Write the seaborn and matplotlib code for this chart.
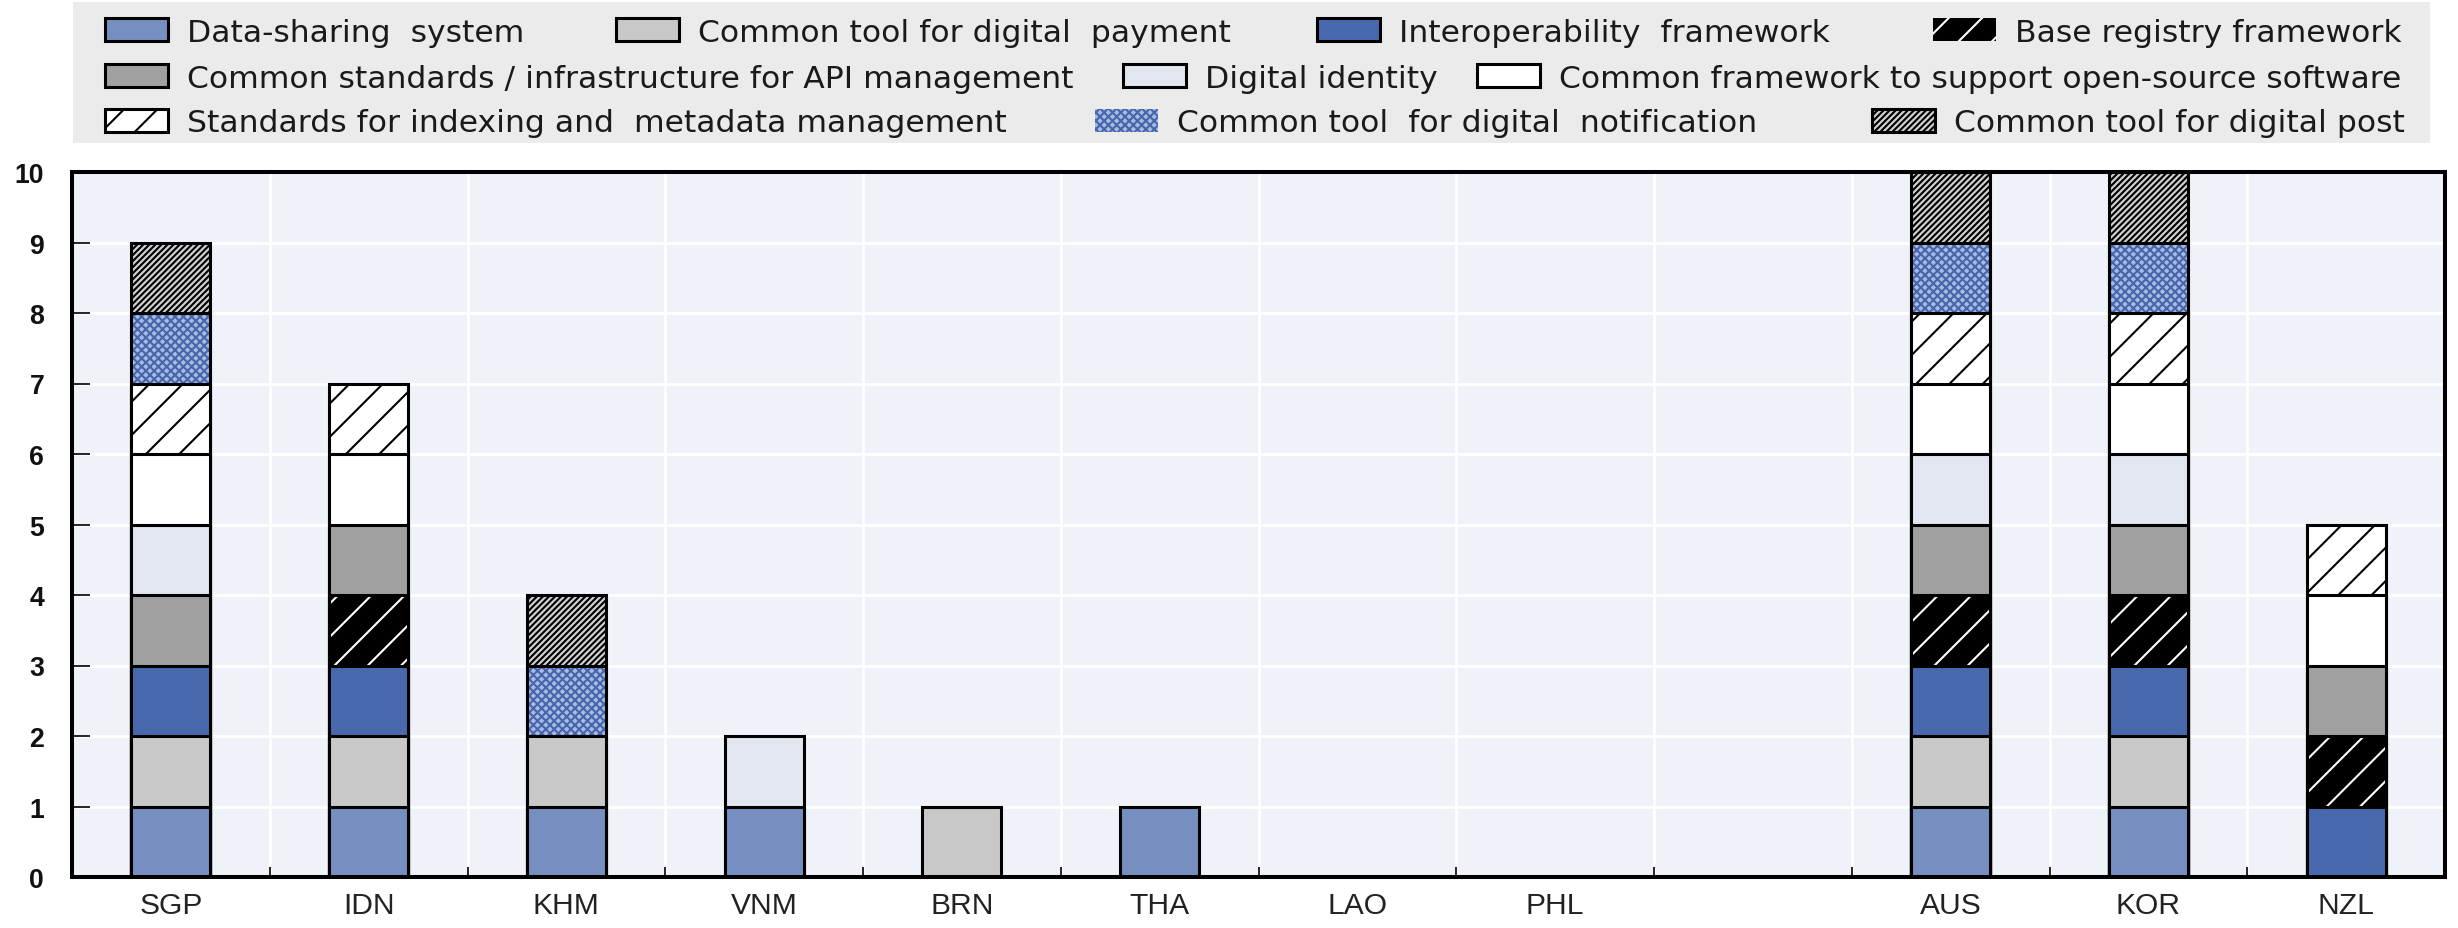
import numpy as np
import pandas as pd
import matplotlib
matplotlib.use("Agg")
import matplotlib.pyplot as plt
from matplotlib.patches import Patch, Rectangle
import seaborn as sns

# ---------------- data ----------------
countries = ["SGP", "IDN", "KHM", "VNM", "BRN", "THA", "LAO", "PHL", "AUS", "KOR", "NZL"]
x_order = ["SGP", "IDN", "KHM", "VNM", "BRN", "THA", "LAO", "PHL", " ", "AUS", "KOR", "NZL"]

data_sharing     = [1, 1, 1, 1, 0, 1, 0, 0, 1, 1, 0]
digital_payment  = [1, 1, 1, 0, 1, 0, 0, 0, 1, 1, 0]
interoperability = [1, 1, 0, 0, 0, 0, 0, 0, 1, 1, 1]
base_registry    = [0, 1, 0, 0, 0, 0, 0, 0, 1, 1, 1]
api_management   = [1, 1, 0, 0, 0, 0, 0, 0, 1, 1, 1]
digital_identity = [1, 0, 0, 1, 0, 0, 0, 0, 1, 1, 0]
open_source      = [1, 1, 0, 0, 0, 0, 0, 0, 1, 1, 1]
indexing_meta    = [1, 1, 0, 0, 0, 0, 0, 0, 1, 1, 1]
digital_notif    = [1, 0, 1, 0, 0, 0, 0, 0, 1, 1, 0]
digital_post     = [1, 0, 1, 0, 0, 0, 0, 0, 1, 1, 0]

series_labels = [
    "Data-sharing  system",
    "Common tool for digital  payment",
    "Interoperability  framework",
    "Base registry framework",
    "Common standards / infrastructure for API management",
    "Digital identity",
    "Common framework to support open-source software",
    "Standards for indexing and  metadata management",
    "Common tool  for digital  notification",
    "Common tool for digital post",
]
y_ticks = list(range(0, 11))

# ---------------- styles ----------------
# (facecolor, hatch, hatchcolor)
styles = [
    ("#778FC0", None, None),
    ("#C8C8C8", None, None),
    ("#4869AE", None, None),
    ("#000000", "//", "white"),
    ("#A0A0A0", None, None),
    ("#E1E6F0", None, None),
    ("#FFFFFF", None, None),
    ("#FFFFFF", "//", "black"),
    ("#A9BAE0", "xxxxxxxx", "#4566AD"),
    ("#D0D0D0", "/" * 11, "black"),
]

sns.set_style("white")
plt.rcParams["hatch.linewidth"] = 0.75
plt.rcParams["font.family"] = ["Liberation Sans", "DejaVu Sans"]

W, H, DPI = 2458, 929, 200
fig = plt.figure(figsize=(W / DPI, H / DPI), dpi=DPI)
fig.patch.set_facecolor("white")

ax = fig.add_axes([72 / W, 1 - 878 / H, (2445 - 72) / W, (878 - 173) / H])
ax.set_facecolor("#EFF2F8")

values = np.array([data_sharing, digital_payment, interoperability, base_registry,
                   api_management, digital_identity, open_source, indexing_meta,
                   digital_notif, digital_post], dtype=float)
tops = values.cumsum(axis=0)

EDGE_LW = 1.1
BAR_W = 0.4
for i in reversed(range(len(series_labels))):
    fc, hatch, hc = styles[i]
    h = np.where(values[i] > 0, tops[i], np.nan)
    df = pd.DataFrame({"country": countries, "top": h})
    common = dict(data=df, x="country", y="top", order=x_order, width=BAR_W,
                  errorbar=None, saturation=1, ax=ax, zorder=3)
    if hatch is None:
        sns.barplot(**common, facecolor=fc, edgecolor="black", linewidth=EDGE_LW)
    elif hc == "black":
        sns.barplot(**common, facecolor=fc, edgecolor="black", linewidth=EDGE_LW, hatch=hatch)
    else:
        sns.barplot(**common, facecolor=fc, edgecolor=hc, linewidth=0, hatch=hatch)
        sns.barplot(**common, facecolor="none", edgecolor="black", linewidth=EDGE_LW)

# ---------------- axes styling ----------------
ax.set_ylim(0, 10)
ax.set_xlim(-0.5, len(x_order) - 0.5)
ax.set_yticks(y_ticks)
ax.set_yticklabels([str(t) for t in y_ticks], fontsize=9.6, fontweight="bold", color="#111111")
ax.set_xticks(range(len(x_order)))
ax.set_xticklabels(x_order, fontsize=10.8, color="#222222")
ax.set_xticks(np.arange(0.5, len(x_order) - 0.5, 1), minor=True)
ax.set_xlabel("")
ax.set_ylabel("")

ax.tick_params(axis="x", which="major", length=0, pad=5.0)
ax.tick_params(axis="x", which="minor", direction="in", length=3.5, width=0.6, color="black",
               bottom=True, top=False)
ax.tick_params(axis="y", which="major", direction="in", length=6.5, width=0.6, color="black",
               left=True, right=False, pad=10)

ax.set_axisbelow(True)
ax.yaxis.grid(True, color="white", linewidth=1.0)
ax.xaxis.grid(False, which="major")
ax.xaxis.grid(True, which="minor", color="white", linewidth=1.0)
for s in ax.spines.values():
    s.set_visible(True)
    s.set_color("black")
    s.set_linewidth(1.45)
    s.set_zorder(5)

# ---------------- legend ----------------
fig.add_artist(Rectangle((73 / W, 1 - 144 / H), (2430 - 73) / W, (144 - 3) / H,
                         transform=fig.transFigure, facecolor="#EBEBEB",
                         edgecolor="none", zorder=0))

legend_rows = [[0, 1, 2, 3], [4, 5, 6], [7, 8, 9]]
legend_x = {0: 105, 1: 616, 2: 1317, 3: 1933,
            4: 105, 5: 1123, 6: 1477,
            7: 105, 8: 1095, 9: 1872}
row_y = [33, 79, 124]
LEG_FS = 11.3
for r, row in enumerate(legend_rows):
    for i in row:
        fc, hatch, hc = styles[i]
        if hatch is None:
            handle = Patch(facecolor=fc, edgecolor="black", linewidth=EDGE_LW)
        elif hc == "black":
            handle = Patch(facecolor=fc, edgecolor="black", linewidth=EDGE_LW, hatch=hatch)
        else:
            handle = Patch(facecolor=fc, edgecolor=hc, linewidth=0.0, hatch=hatch)
        leg = fig.legend(handles=[handle], labels=[series_labels[i]],
                         loc="center left", bbox_to_anchor=(legend_x[i] / W, 1 - row_y[r] / H),
                         frameon=False, borderpad=0, borderaxespad=0,
                         handlelength=2.0, handleheight=0.75, handletextpad=0.6,
                         prop={"family": "DejaVu Sans", "size": LEG_FS})
        for t in leg.get_texts():
            t.set_color("#1a1a1a")

fig.savefig("out.png", dpi=DPI, facecolor="white")
